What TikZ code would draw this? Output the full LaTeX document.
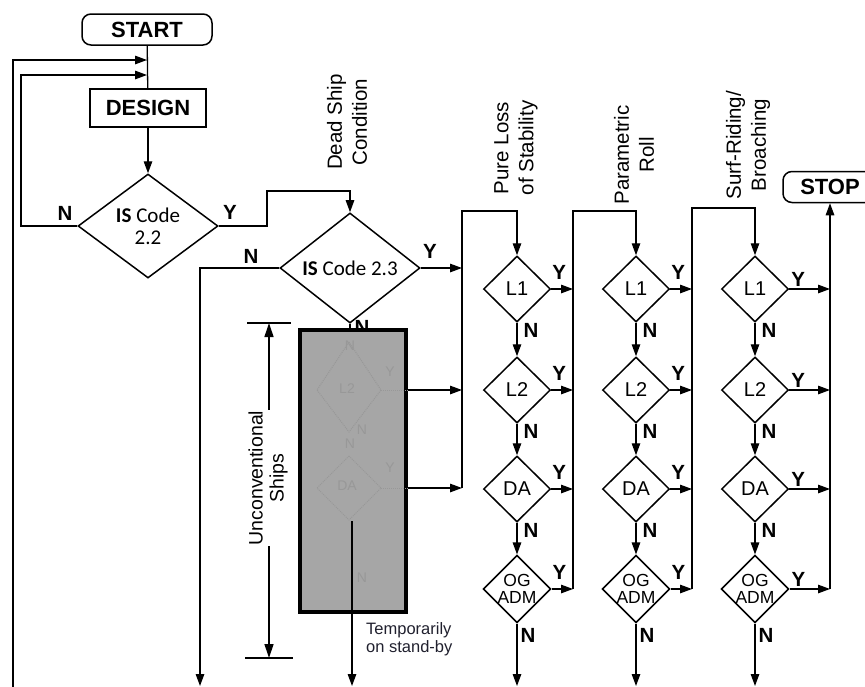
\documentclass[tikz,border=0pt]{standalone}
\usepackage{fontspec}
\setmainfont{Liberation Sans}
\newfontfamily\calfont{Carlito}
\usetikzlibrary{arrows.meta,shapes.geometric}
\definecolor{boxgray}{HTML}{A6A6A6}
\definecolor{ghost}{HTML}{989898}
\definecolor{tmptext}{HTML}{20202E}
\begin{document}
\begin{tikzpicture}[x=1pt,y=-1pt,
  ln/.style={line width=1.3pt},
  arr/.style={line width=1.3pt,-{Triangle[length=12pt,width=8.5pt]}},
  dia/.style={diamond,draw,line width=1.5pt,inner sep=0pt,minimum width=67pt,minimum height=66pt,font=\fontsize{20}{20}\selectfont},
  lab/.style={font=\bfseries\fontsize{20.5}{21}\selectfont,inner sep=0pt},
  head/.style={rotate=90,align=center,font=\fontsize{20.5}{25}\selectfont,inner sep=0pt},
  term/.style={draw,line width=1.5pt,rounded corners=9pt,minimum height=31pt,inner sep=0pt,font=\bfseries\fontsize{22}{22}\selectfont},
  gl/.style={text=ghost,inner sep=0pt,font=\fontsize{14}{14}\selectfont},
  gd/.style={draw=ghost,line width=1pt,densely dotted}]
\useasboundingbox (0,0) rectangle (865,686);
\clip (0,0) rectangle (865,686);

% terminals and first blocks
\node[term,minimum width=130pt] (start) at (147,29.5) {START};
\node[draw,line width=2.2pt,minimum width=116pt,minimum height=38pt,inner sep=0pt,font=\bfseries\fontsize{22}{22}\selectfont] (design) at (148,108) {DESIGN};
\node[diamond,draw,line width=1.5pt,inner sep=0pt,minimum width=140pt,minimum height=104pt,align=center,font=\calfont\fontsize{21}{22}\selectfont] (is22) at (148,226) {\textbf{IS} Code\\2.2};
\node[diamond,draw,line width=1.5pt,inner sep=0pt,minimum width=140pt,minimum height=102pt,font=\calfont\fontsize{21}{22}\selectfont] (is23) at (350,268) {\textbf{IS} Code 2.3};
\node[term,minimum width=94pt] (stop) at (830,187) {STOP};

% coordinates
\coordinate (fb1) at (147,60);
\coordinate (fb2) at (147,75);
\coordinate (o1) at (13,690);
\coordinate (o1t) at (13,60);
\coordinate (i1) at (21,226);
\coordinate (i1t) at (21,75);
\coordinate (y1a) at (267,226);
\coordinate (y1b) at (267,191);
\coordinate (n23) at (200,268);
\coordinate (n23b) at (200,686);
\coordinate (b0bot) at (462,488);
\coordinate (b0top) at (462,211);
\coordinate (b1bot) at (573,589);
\coordinate (b1top) at (573,211);
\coordinate (b2bot) at (692,589);
\coordinate (b2top) at (692,208);
\coordinate (b3bot) at (830,589);
\coordinate (bx1) at (408,390);
\coordinate (bx2) at (408,488);
\coordinate (sb1) at (352,521);
\coordinate (sb2) at (352,686);

% headings
\node[head] (hd0) at (347,122) {Dead Ship\\Condition};
\node[head] (hd1) at (516,148) {Pure Loss\\of Stability};
\node[head] (hd2) at (634,155) {Parametric\\Roll};
\node[head] (hd3) at (748,145) {Surf-Riding/\\Broaching};

% left part connectors
\draw[ln] (start) -- (design);
\draw[arr] (o1) -- (o1t) -- (fb1);
\draw[arr] (is22.west) -- (i1) -- (i1t) -- (fb2);
\draw[arr] (design) -- (is22);
\draw[arr] (is22.east) -- (y1a) -- (y1b) -| (is23.north);
\draw[arr] (is23.west) -- (n23) -- (n23b);
\draw[arr] (is23.east) -- (is23.east -| b0top);
\node[lab] (l22n) at (65,213) {N};
\node[lab] (l22y) at (230,212) {Y};
\node[lab] (l23n) at (251,256) {N};
\node[lab] (l23y) at (430,251) {Y};
\node[lab] (l23s) at (362,327) {N};

% grey box
\draw[ln] (is23.south) -- (350,330);
\node[draw,line width=4.5pt,fill=boxgray,minimum width=106pt,minimum height=282pt,inner sep=0pt] (box) at (353,471) {};
% ghost content
\draw[gd] (349,342) -- (381,390) -- (349,432) -- (317,390) -- cycle;
\draw[gd] (349,456) -- (381,488) -- (349,520) -- (317,488) -- cycle;
\draw[gd] (381,390) -- (bx1);
\draw[gd] (381,488) -- (bx2);
\node[gl] (g1) at (347,389) {L2};
\node[gl] (g2) at (347,486) {DA};
\node[gl] (g3) at (390,372) {Y};
\node[gl] (g4) at (390,468) {Y};
\node[gl] (g5) at (350,346) {N};
\node[gl] (g6) at (362,430) {N};
\node[gl] (g7) at (350,444) {N};
\node[gl] (g8) at (362,578) {N};
\draw[arr] (sb1) -- (sb2);
\draw[arr] (bx1) -- (bx1 -| b0top);
\draw[arr] (bx2) -- (bx2 -| b0top);

% dimension
\draw[line width=1.3pt,{Triangle[length=14pt,width=9pt]}-{Triangle[length=14pt,width=9pt]}] (269,323) -- (269,658);
\draw[ln] (247,323) -- (291,323);
\draw[ln] (245,658) -- (293,658);
\node[head,fill=white,inner sep=1pt,font=\fontsize{19.5}{21}\selectfont] (unc) at (268,478) {Unconventional\\Ships};

\node[anchor=north west,align=left,inner sep=0pt,text=tmptext,font=\fontsize{16.5}{18}\selectfont] (temp) at (366,622) {Temporarily\\on stand-by};

% columns
\foreach \c/\x in {1/517,2/636,3/755} {
  \node[dia] (c\c r1) at (\x,289) {L1};
  \node[dia] (c\c r2) at (\x,390) {L2};
  \node[dia] (c\c r3) at (\x,489) {DA};
  \node[dia,align=center,font=\fontsize{17.5}{16.5}\selectfont] (c\c r4) at (\x,589) {OG\\ADM};
  \foreach \r/\n in {1/2,2/3,3/4} {
    \draw[arr] (c\c r\r.south) -- (c\c r\n.north);
    \node[lab] at ([xshift=14pt,yshift=-8pt]c\c r\r.south) {N};
  }
  \coordinate (bot\c) at (\x,686);
  \draw[arr] (c\c r4.south) -- (bot\c);
  \node[lab] at ([xshift=11pt,yshift=-12pt]c\c r4.south) {N};
}
\foreach \c in {1,2} {
  \foreach \r in {1,2,3,4} {
    \draw[arr] (c\c r\r.east) -- (c\c r\r.east -| b\c top);
    \node[lab] at ([xshift=8pt,yshift=17pt]c\c r\r.east) {Y};
  }
}
\foreach \r in {1,2,3,4} {
  \draw[arr] (c3r\r.east) -- (c3r\r.east -| b3bot);
  \node[lab] at ([xshift=9pt,yshift=10pt]c3r\r.east) {Y};
}

% buses
\draw[arr] (b0bot) -- (b0top) -| (c1r1.north);
\draw[arr] (b1bot) -- (b1top) -| (c2r1.north);
\draw[arr] (b2bot) -- (b2top) -| (c3r1.north);
\draw[arr] (b3bot) -- (b3bot |- stop.south);
\end{tikzpicture}
\end{document}
